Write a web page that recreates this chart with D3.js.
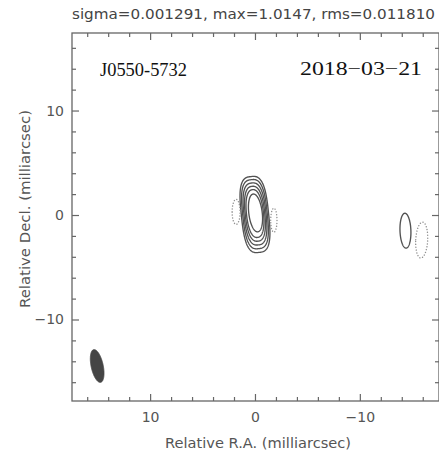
<!DOCTYPE html>
<html>
<head>
<meta charset="utf-8">
<script src="https://cdn.jsdelivr.net/npm/d3@7/dist/d3.min.js"></script>
<style>
  html, body { margin: 0; padding: 0; background: #fff; }
  svg { display: block; }
</style>
</head>
<body>
<svg id="map" width="439" height="457"></svg>
<script>
// Map statistics shown in the header
const statNames  = ["sigma", "max", "rms"];
const statValues = ["0.001291", "1.0147", "0.011810"];

const sourceName = "J0550-5732";
const obsDate    = "2018\u221203\u221221";

// Axis ticks (milliarcsec)
const xMajorTicks = [10, 0, -10];
const xMinorTicks = [16, 14, 12, 8, 6, 4, 2, -2, -4, -6, -8, -12, -14, -16];
const yMajorTicks = [10, 0, -10];
const yMinorTicks = [16, 14, 12, 8, 6, 4, 2, -2, -4, -6, -8, -12, -14, -16];

// Contours: centre (RA, Dec), semi-axes, position angle (deg E of N),
// squareness exponent and sign (+1 solid positive, -1 dotted negative)
const contourRA     = [0.0, 0.0, 0.0, 0.0, 0.0, -0.05, 1.8, -1.8, -14.35, -15.9];
const contourDec    = [0.05, 0.08, 0.10, 0.12, 0.14, 0.20, 0.30, -0.50, -1.50, -2.40];
const contourMinor  = [1.30, 1.17, 1.05, 0.93, 0.81, 0.64, 0.38, 0.30, 0.52, 0.57];
const contourMajor  = [3.65, 3.32, 2.98, 2.64, 2.30, 1.82, 1.20, 1.15, 1.67, 1.72];
const contourPA     = [6, 6, 6, 6, 6, 7, 0, 0, 2, -3];
const contourShape  = [3.0, 2.9, 2.7, 2.5, 2.3, 2.05, 2, 2, 2, 2];
const contourSign   = [1, 1, 1, 1, 1, 1, -1, -1, 1, -1];

// Restoring beam (FWHM, mas) and where it is drawn
const beamRA = [15.05], beamDec = [-14.45];
const beamMajor = [3.2], beamMinor = [1.15], beamPA = [12];

(function draw() {
  const svg = d3.select("#map");
  const frameL = 72, frameR = 439, frameT = 33, frameB = 401;

  // RA increases to the left
  const x = d3.scaleLinear().domain([17.45, -17.55]).range([frameL, frameR]);
  const y = d3.scaleLinear().domain([-17.8, 17.42]).range([frameB, frameT]);

  const axisColor = "#666";
  const labelColor = "#555";

  // Header text
  const header = statNames.map((n, i) => n + "=" + statValues[i]).join(", ");
  svg.append("text")
    .attr("x", 72).attr("y", 19)
    .attr("font-family", "DejaVu Sans, sans-serif")
    .attr("font-size", 13.5)
    .attr("fill", "#444")
    .attr("textLength", 363)
    .attr("lengthAdjust", "spacingAndGlyphs")
    .text(header);

  // Frame
  svg.append("rect")
    .attr("x", frameL).attr("y", frameT)
    .attr("width", frameR - frameL).attr("height", frameB - frameT)
    .attr("fill", "none").attr("stroke", axisColor).attr("stroke-width", 1.3);

  function styleAxis(g) {
    g.select(".domain").remove();
    g.selectAll(".tick line").attr("stroke", axisColor).attr("stroke-width", 1.2);
    g.selectAll(".tick text")
      .attr("fill", labelColor)
      .attr("font-family", "DejaVu Sans, sans-serif")
      .attr("font-size", 14);
  }

  const fmt = d3.format("d");

  // Bottom
  svg.append("g").attr("transform", `translate(0,${frameB})`)
    .call(d3.axisBottom(x).tickValues(xMajorTicks).tickSize(-7).tickPadding(11).tickFormat(fmt))
    .call(styleAxis);
  svg.append("g").attr("transform", `translate(0,${frameB})`)
    .call(d3.axisBottom(x).tickValues(xMinorTicks).tickSize(-4).tickFormat(""))
    .call(styleAxis);
  // Top
  svg.append("g").attr("transform", `translate(0,${frameT})`)
    .call(d3.axisTop(x).tickValues(xMajorTicks).tickSize(-7).tickFormat(""))
    .call(styleAxis);
  svg.append("g").attr("transform", `translate(0,${frameT})`)
    .call(d3.axisTop(x).tickValues(xMinorTicks).tickSize(-4).tickFormat(""))
    .call(styleAxis);
  // Left
  svg.append("g").attr("transform", `translate(${frameL},0)`)
    .call(d3.axisLeft(y).tickValues(yMajorTicks).tickSize(-7).tickPadding(8).tickFormat(fmt))
    .call(styleAxis);
  svg.append("g").attr("transform", `translate(${frameL},0)`)
    .call(d3.axisLeft(y).tickValues(yMinorTicks).tickSize(-4).tickFormat(""))
    .call(styleAxis);
  // Right
  svg.append("g").attr("transform", `translate(${frameR},0)`)
    .call(d3.axisRight(y).tickValues(yMajorTicks).tickSize(-7).tickFormat(""))
    .call(styleAxis);
  svg.append("g").attr("transform", `translate(${frameR},0)`)
    .call(d3.axisRight(y).tickValues(yMinorTicks).tickSize(-4).tickFormat(""))
    .call(styleAxis);

  // Axis titles
  svg.append("text")
    .attr("x", 258).attr("y", 448)
    .attr("text-anchor", "middle")
    .attr("font-family", "DejaVu Sans, sans-serif")
    .attr("font-size", 13.5)
    .attr("fill", labelColor)
    .attr("textLength", 186).attr("lengthAdjust", "spacingAndGlyphs")
    .text("Relative R.A. (milliarcsec)");
  svg.append("text")
    .attr("transform", "translate(30,209) rotate(-90)")
    .attr("text-anchor", "middle")
    .attr("font-family", "DejaVu Sans, sans-serif")
    .attr("font-size", 13.5)
    .attr("fill", labelColor)
    .attr("textLength", 198).attr("lengthAdjust", "spacingAndGlyphs")
    .text("Relative Decl. (milliarcsec)");

  // Source name and epoch
  svg.append("text")
    .attr("x", 100).attr("y", 76)
    .attr("font-family", "Liberation Serif, serif")
    .attr("font-size", 18).attr("fill", "#111")
    .attr("textLength", 87).attr("lengthAdjust", "spacingAndGlyphs")
    .text(sourceName);
  svg.append("text")
    .attr("x", 300).attr("y", 75)
    .attr("font-family", "Liberation Serif, serif")
    .attr("font-size", 18.5).attr("fill", "#111")
    .attr("textLength", 122).attr("lengthAdjust", "spacingAndGlyphs")
    .text(obsDate);

  // Closed outline of a (super)ellipse in sky coordinates
  function outline(cra, cdec, a, b, paDeg, n) {
    const pa = paDeg * Math.PI / 180;
    const e = 2 / n;
    return d3.range(0, 180).map(k => {
      const t = k / 180 * 2 * Math.PI;
      const u = Math.cos(t), v = Math.sin(t);
      const px = a * Math.sign(u) * Math.pow(Math.abs(u), e);
      const py = b * Math.sign(v) * Math.pow(Math.abs(v), e);
      return [cra + px * Math.cos(pa) + py * Math.sin(pa),
              cdec - px * Math.sin(pa) + py * Math.cos(pa)];
    });
  }

  const line = d3.line().x(d => x(d[0])).y(d => y(d[1])).curve(d3.curveLinearClosed);

  const contours = contourRA.map((ra, i) => ({
    pts: outline(ra, contourDec[i], contourMinor[i], contourMajor[i], contourPA[i], contourShape[i]),
    sign: contourSign[i]
  }));

  svg.append("g").selectAll("path")
    .data(contours)
    .join("path")
    .attr("d", d => line(d.pts))
    .attr("fill", "none")
    .attr("stroke", d => d.sign > 0 ? "#525252" : "#8f8f8f")
    .attr("stroke-width", d => d.sign > 0 ? 1.35 : 1.4)
    .attr("stroke-linecap", d => d.sign > 0 ? "butt" : "round")
    .attr("stroke-dasharray", d => d.sign > 0 ? null : "0.1 2.8");

  // Restoring beam
  svg.append("g").selectAll("path")
    .data(beamRA.map((ra, i) => outline(ra, beamDec[i], beamMinor[i] / 2, beamMajor[i] / 2, beamPA[i], 2)))
    .join("path")
    .attr("d", line)
    .attr("fill", "#454545")
    .attr("stroke", "#454545")
    .attr("stroke-width", 0.8);
})();
</script>
</body>
</html>
